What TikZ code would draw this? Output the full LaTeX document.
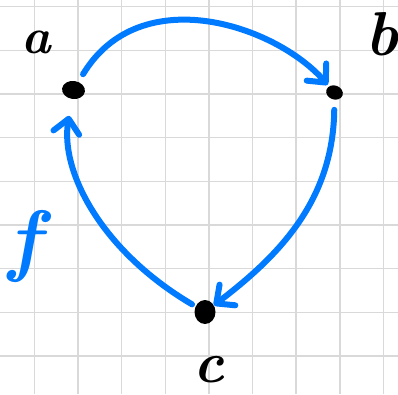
\documentclass[tikz,border=0pt]{standalone}
\usetikzlibrary{arrows.meta,shapes.geometric}
\definecolor{penblue}{RGB}{0,122,255}
\tikzset{
  gridline/.style = {draw=black!15, line width=1.5pt},
  dot/.style      = {ellipse, fill=black, inner sep=0pt},
  pen/.style      = {draw=penblue, line width=6pt, line cap=round,
                     -{Straight Barb[length=14pt,width=26pt,round]}},
  letter/.style   = {inner sep=0pt, font=\bfseries\itshape\fontsize{#1}{#1}\selectfont},
  letter/.default = 50
}
\begin{document}
\begin{tikzpicture}[x=1pt,y=-1pt]
  \useasboundingbox (0,0) rectangle (398,394);
  \fill[white] (0,0) rectangle (398,394);
% the squared paper
  \foreach \k in {0,...,8}{
    \draw[gridline] (34.3+43.65*\k,0) -- (34.3+43.65*\k,394);
    \draw[gridline] (0,6.7+43.65*\k) -- (398,6.7+43.65*\k);
  }
% points
  \node[dot, minimum width=23pt, minimum height=18pt, rotate=-8] (a) at (73.5,90) {};
  \node[dot, minimum width=17pt, minimum height=14pt, rotate=-20] (b) at (334.5,92.5) {};
  \node[dot, minimum width=21pt, minimum height=24pt] (c) at (205,312) {};
% names
  \node[letter] (la) at (36,42) {a};
  \node[letter=62] (lb) at (382,34) {b};
  \node[letter=58] (lc) at (209,370) {c};
  \node[letter=80, text=penblue] (lf) at (25,246) {f};
% arrows
  \draw[pen, shorten <=9pt, shorten >=2pt] (a) .. controls (140,-20) and (275,25) .. (b);
  \draw[pen, shorten <=10pt, shorten >=0pt] (b) .. controls (333,200) and (280,255) .. (c);
  \draw[pen, shorten <=4pt, shorten >=17pt] (c) .. controls (100,250) and (60,170) .. (a);
\end{tikzpicture}
\end{document}
